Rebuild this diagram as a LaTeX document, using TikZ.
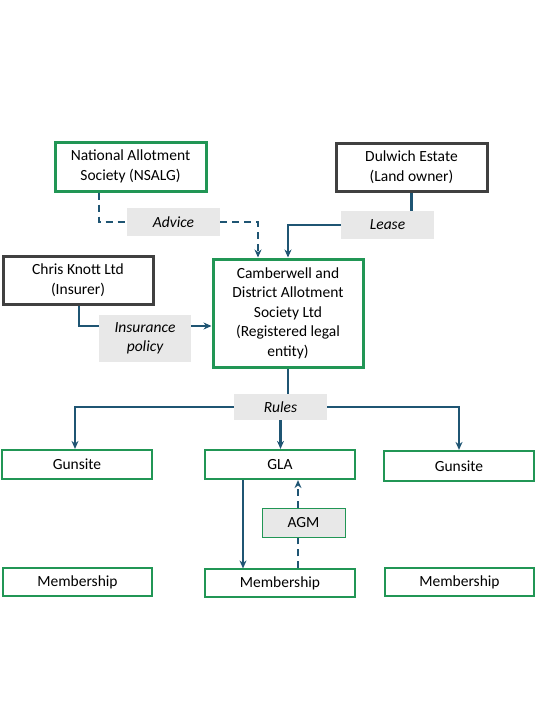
\documentclass[tikz,border=0pt]{standalone}
\usepackage{fontspec}
\setmainfont{Carlito}
\usetikzlibrary{arrows.meta}
\definecolor{grn}{RGB}{33,150,85}
\definecolor{dk}{RGB}{64,64,64}
\definecolor{ln}{RGB}{31,85,115}
\definecolor{lbl}{RGB}{232,232,232}
\begin{document}
\begin{tikzpicture}[x=1pt,y=-1pt,
  every node/.style={font=\fontsize{15.5}{19.5}\selectfont, align=center, inner sep=0pt},
  gbox/.style={draw=grn, line width=3pt, fill=white},
  dbox/.style={draw=dk, line width=3pt, fill=white},
  sbox/.style={draw=grn, line width=2.2pt, fill=white},
  mbox/.style={draw=grn, line width=1.2pt, fill=white},
  lab/.style={fill=lbl, font=\fontsize{15.5}{19.5}\selectfont\itshape},
  agmbox/.style={fill=lbl, draw=grn, line width=1pt},
  conn/.style={draw=ln, line width=2.2pt},
  tip/.style={-{Stealth[length=8pt,width=7pt]}},
  dsh/.style={dash pattern=on 7pt off 5pt},
]
\useasboundingbox (0,0) rectangle (540,720);
% boxes
\node[gbox, minimum width=151, minimum height=49] (nsa) at (130.5,166.5) {National Allotment\\Society (NSALG)};
\node[dbox, minimum width=151, minimum height=48] (dul) at (411.5,167) {Dulwich Estate\\(Land owner)};
\node[dbox, minimum width=150, minimum height=48] (ck) at (78,280) {Chris Knott Ltd\\(Insurer)};
\node[gbox, minimum width=150, minimum height=108] (cam) at (288,313) {Camberwell and\\District Allotment\\Society Ltd\\(Registered legal\\entity)};
% labels
\node[lab, minimum width=93, minimum height=28] (adv) at (173.5,222) {Advice};
\node[lab, minimum width=93, minimum height=28] (lea) at (387.5,225) {Lease};
\node[lab, minimum width=92, minimum height=47] (ins) at (145,338.5) {Insurance\\policy};
\node[lab, minimum width=93, minimum height=26] (rul) at (280.5,407) {Rules};
% second level
\node[sbox, minimum width=150, minimum height=29] (gl) at (77,464.5) {Gunsite};
\node[sbox, minimum width=150, minimum height=29] (gla) at (280,464.5) {GLA};
\node[sbox, minimum width=150, minimum height=30] (gr) at (459,466) {Gunsite};
\node[mbox, minimum width=149, minimum height=28] (ml) at (77.5,582) {Membership};
\node[mbox, minimum width=150, minimum height=28] (mm) at (280,583) {Membership};
\node[mbox, minimum width=149, minimum height=28] (mr) at (459.5,582) {Membership};
\node[agmbox, minimum width=83, minimum height=29] (agm) at (303.5,522.5) {AGM};
% connectors
\coordinate (c1) at (99,222);
\coordinate (c2) at (258,222);
\draw[conn, dsh] (nsa.south -| c1) -- (c1) -- (adv.west);
\draw[conn, dsh, tip] (adv.east) -- (c2) -- (cam.north -| c2);
\draw[conn] (dul.south) -- (lea.north -| dul.south);
\coordinate (c3) at (288,225);
\draw[conn, tip] (lea.west) -- (c3) -- (cam.north);
\coordinate (c4) at (79,326);
\draw[conn] (ck.south -| c4) -- (c4) -- (ins.west |- c4);
\draw[conn, tip] (ins.east |- c4) -- (cam.west |- c4);
\draw[conn] (cam.south) -- (rul.north -| cam.south);
\coordinate (c5) at (75,407);
\coordinate (c6) at (459,407);
\draw[conn, tip] (rul.west) -- (c5) -- (gl.north -| c5);
\draw[conn, tip] (rul.east) -- (c6) -- (gr.north -| c6);
\draw[conn, tip] (rul.south) -- (rul.south |- gla.north);
\coordinate (c7) at (243,479);
\draw[conn, tip] (gla.south -| c7) -- (mm.north -| c7);
\coordinate (c8) at (298,479);
\draw[conn, dsh] (mm.north -| c8) -- (agm.south -| c8);
\draw[conn, dsh, tip] (agm.north -| c8) -- (gla.south -| c8);
\end{tikzpicture}
\end{document}
